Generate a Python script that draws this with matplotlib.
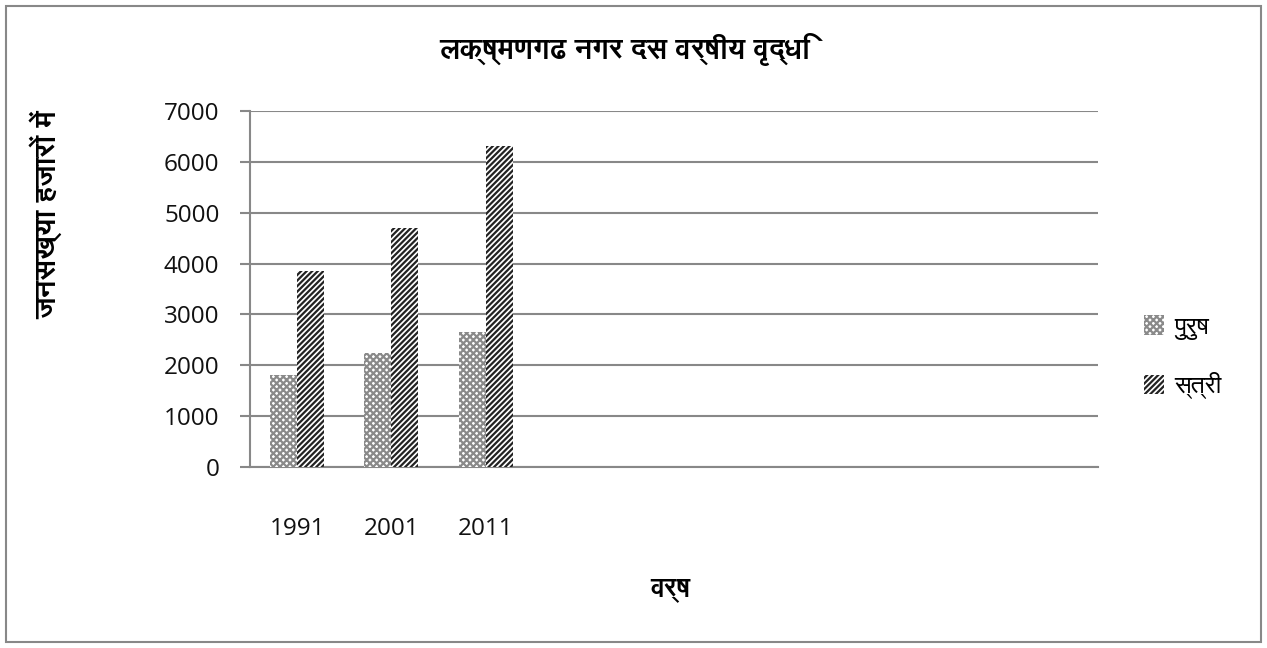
import matplotlib
matplotlib.use("Agg")
import matplotlib.pyplot as plt
from matplotlib import font_manager
from matplotlib.ft2font import FT2Font
from matplotlib.patches import Rectangle

# ---- data ----
years = ["1991", "2001", "2011"]
n_slots = 9
male = [1800, 2250, 2650]
female = [3850, 4700, 6320]
series_names = ["पुरुष", "स्त्री"]
title = "लक्ष्मणगढ नगर दस वर्षीय वृद्धि"
ylabel = "जनसख्या हजारों में"
xlabel = "वर्ष"
yticks = [0, 1000, 2000, 3000, 4000, 5000, 6000, 7000]

# ---- font selection: find fonts with Devanagari ----
deva_fonts = []
for f in font_manager.fontManager.ttflist:
    try:
        cm = FT2Font(f.fname).get_charmap()
        if 0x0915 in cm:
            deva_fonts.append(f)
    except Exception:
        pass
deva = None
deva_bold = None
for f in deva_fonts:
    w = f.weight if isinstance(f.weight, int) else (700 if "bold" in str(f.weight).lower() else 400)
    if w >= 600 and deva_bold is None:
        deva_bold = f.name
    if deva is None:
        deva = f.name
if deva_bold is None:
    deva_bold = deva
if deva_bold is not None:
    deva = deva_bold if any(f.name == deva_bold and (f.weight == 400 or f.weight == "normal") for f in deva_fonts) else deva

num_font = ["Open Sans", "DejaVu Sans"]
fams = ([deva] if deva else []) + num_font
fams_b = ([deva_bold] if deva_bold else []) + num_font
plt.rcParams["font.family"] = fams
plt.rcParams["hatch.linewidth"] = 1.6

fig = plt.figure(figsize=(12.67, 6.48), dpi=100)
ax = fig.add_axes([250/1267, 1-467/648, 848/1267, (467-111)/648])

x = list(range(len(years)))
w = 0.287
ax.bar([i - w/2 for i in x], male, width=w, facecolor="white",
       edgecolor="#8a8a8a", hatch="xxxxx", linewidth=0, label=series_names[0], zorder=3)
ax.bar([i + w/2 for i in x], female, width=w, facecolor="white",
       edgecolor="#222222", hatch="//////", linewidth=0, label=series_names[1], zorder=3)

ax.set_xlim(-0.5, n_slots - 0.5)
ax.set_ylim(0, 7000)
ax.set_yticks(yticks)
ax.set_yticklabels([str(v) for v in yticks], fontsize=17.5, family=num_font, color="#111111")
ax.set_xticks(x)
ax.set_xticklabels(years, fontsize=17.5, family=num_font, color="#111111")
ax.tick_params(axis="x", length=0, pad=36)
ax.tick_params(axis="y", length=7, color="#888888", width=1.5, pad=15)
ax.grid(axis="y", color="#888888", linewidth=1.5, zorder=0)
for s in ["top", "right"]:
    ax.spines[s].set_visible(False)
for s in ["left", "bottom"]:
    ax.spines[s].set_color("#888888")
    ax.spines[s].set_linewidth(1.5)

fig.text(625/1267, 1-50/648, title, fontsize=21, fontweight="bold", family=fams_b,
         ha="center", va="center")
fig.text(46/1267, 1-215/648, ylabel, fontsize=21, fontweight="bold", family=fams_b,
         rotation=90, ha="center", va="center")
fig.text(670/1267, 1-590/648, xlabel, fontsize=19, fontweight="bold", family=fams_b,
         ha="center", va="center")

ax.legend(loc="center left", bbox_to_anchor=(1131/1267, 1-357/648), bbox_transform=fig.transFigure,
          frameon=False, prop={"family": fams, "size": 18}, handlelength=0.8, handleheight=0.8,
          labelspacing=1.3, handletextpad=0.45, borderpad=0)

fig.patches.append(Rectangle((6/1267, 6/648), 1255/1267, 636/648, transform=fig.transFigure,
                             fill=False, edgecolor="#888888", linewidth=1.5))

fig.savefig("out.png", dpi=100)
